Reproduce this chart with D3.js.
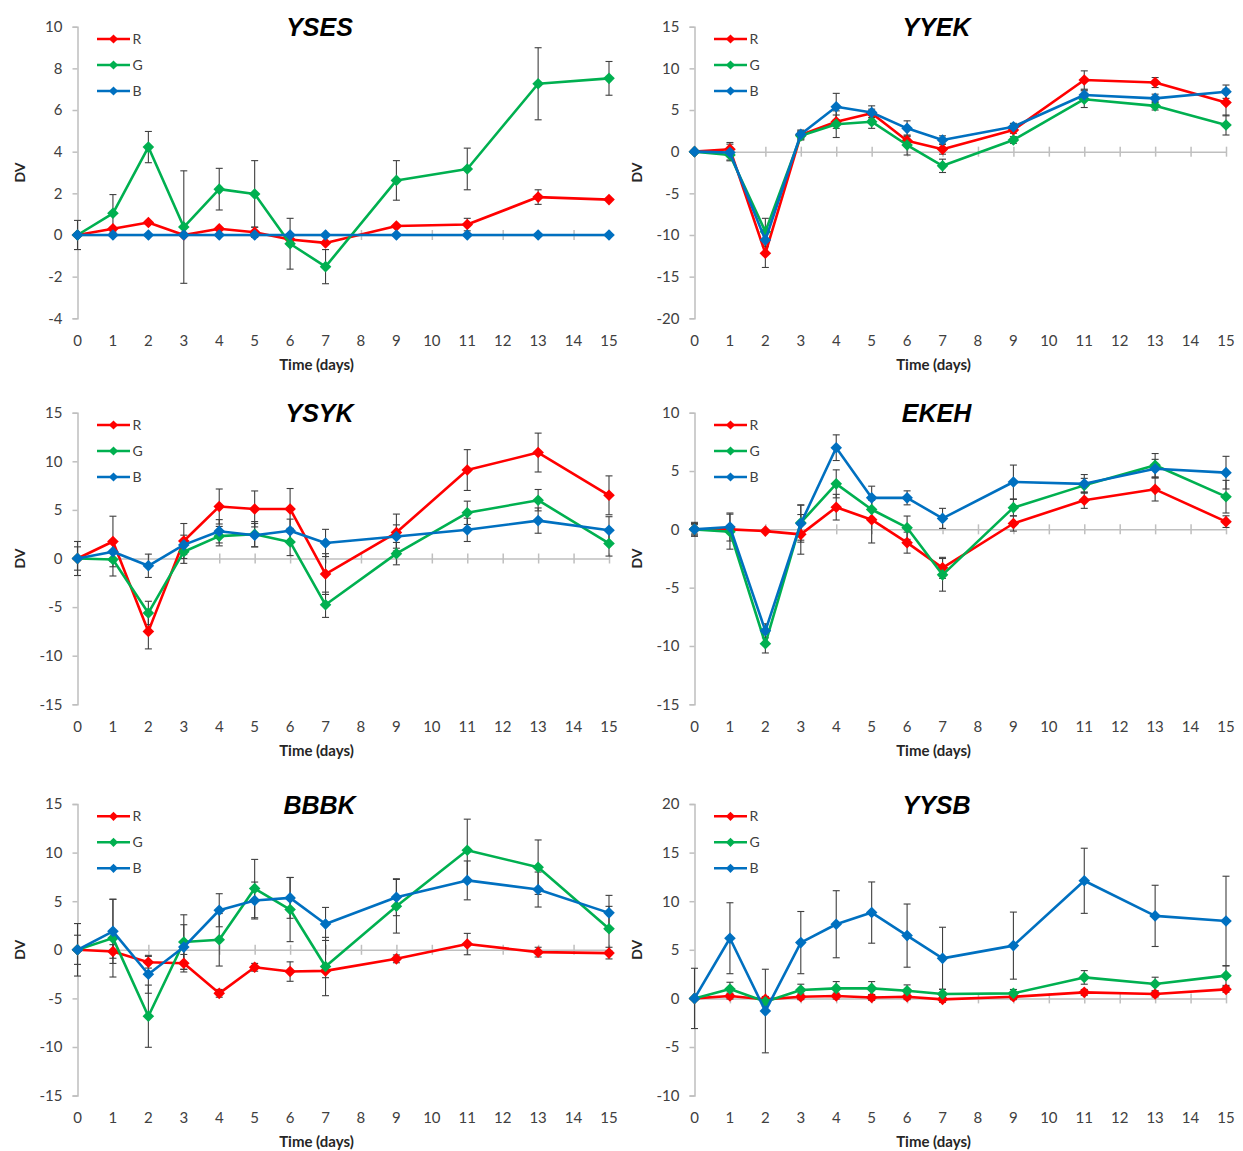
<!DOCTYPE html>
<html>
<head>
<meta charset="utf-8">
<script src="https://cdn.jsdelivr.net/npm/d3@7"></script>
<style>
  html, body { margin: 0; padding: 0; background: #fff; }
  svg { display: block; }
</style>
</head>
<body>
<svg id="chart" width="1243" height="1151"></svg>
<script>
// Sampling days and axis tick labels shared by all six panels
const days = [0, 1, 2, 3, 4, 5, 6, 7, 9, 11, 13, 15];
const dayTicks = [0, 1, 2, 3, 4, 5, 6, 7, 8, 9, 10, 11, 12, 13, 14, 15];
const seriesNames = ["R", "G", "B"];
const seriesColors = ["#FF0000", "#00B050", "#0070C0"];

// YSES
const ysesR = [0, 0.3, 0.6, 0, 0.3, 0.13, -0.22, -0.38, 0.43, 0.5, 1.82, 1.7];
const ysesG = [0, 1.04, 4.22, 0.38, 2.2, 1.97, -0.42, -1.52, 2.62, 3.17, 7.26, 7.52];
const ysesB = [0, 0, 0, 0, 0, 0, 0, 0, 0, 0, 0, 0];
const ysesErrR = [0, 0, 0, 0, 0, 0.25, 0, 0, 0, 0.3, 0.35, 0];
const ysesErrG = [0.7, 0.9, 0.75, 2.7, 1.0, 1.6, 1.22, 0.82, 0.95, 1.0, 1.73, 0.81];
const ysesErrB = [0, 0, 0, 0, 0, 0, 0, 0, 0, 0, 0, 0];
const ysesTicks = [-4, -2, 0, 2, 4, 6, 8, 10];

// YYEK
const yyekR = [0, 0.3, -12.2, 2.0, 3.6, 4.6, 1.3, 0.3, 2.6, 8.6, 8.3, 5.9];
const yyekG = [0, -0.4, -9.6, 1.9, 3.3, 3.6, 0.8, -1.7, 1.4, 6.3, 5.5, 3.2];
const yyekB = [0, -0.1, -10.6, 2.1, 5.4, 4.7, 2.8, 1.4, 3.0, 6.8, 6.4, 7.2];
const yyekErrR = [0, 0.8, 1.7, 0.5, 0.8, 0.5, 0.5, 0.6, 0.4, 1.1, 0.6, 1.6];
const yyekErrG = [0, 0.6, 1.6, 0.5, 1.6, 0.8, 1.2, 0.8, 0.4, 1.0, 0.5, 1.2];
const yyekErrB = [0, 1.0, 0.8, 0.5, 1.6, 0.8, 0.9, 0.5, 0.4, 0.6, 0.5, 0.8];
const yyekTicks = [-20, -15, -10, -5, 0, 5, 10, 15];

// YSYK
const ysykR = [0, 1.75, -7.5, 1.8, 5.35, 5.1, 5.1, -1.6, 2.67, 9.1, 10.9, 6.5];
const ysykG = [0, -0.1, -5.6, 0.7, 2.3, 2.5, 1.7, -4.76, 0.5, 4.7, 6.0, 1.55];
const ysykB = [0, 0.7, -0.75, 1.4, 2.8, 2.4, 2.85, 1.6, 2.26, 2.95, 3.9, 2.9];
const ysykErrR = [1.75, 2.6, 1.8, 1.8, 1.8, 1.85, 2.1, 2.1, 1.9, 2.1, 2.0, 2.0];
const ysykErrG = [1.2, 1.7, 1.2, 1.2, 1.0, 1.3, 1.4, 1.3, 1.15, 1.2, 1.1, 1.3];
const ysykErrB = [0, 1.0, 1.2, 1.0, 1.2, 1.2, 1.2, 1.4, 1.2, 1.2, 1.3, 1.4];
const ysykTicks = [-15, -10, -5, 0, 5, 10, 15];

// EKEH
const ekehR = [0, 0, -0.15, -0.43, 1.9, 0.83, -1.14, -3.3, 0.5, 2.5, 3.43, 0.66];
const ekehG = [0, -0.2, -9.8, 0.57, 3.9, 1.7, 0.14, -3.9, 1.86, 3.77, 5.5, 2.8];
const ekehB = [0, 0.2, -8.7, 0.5, 7.0, 2.7, 2.7, 0.94, 4.06, 3.9, 5.2, 4.86];
const ekehErrR = [0.6, 0, 0, 1.7, 1.1, 2.0, 0.9, 0.9, 0.65, 0.7, 1.0, 0.5];
const ekehErrG = [0.5, 1.5, 0.8, 1.5, 1.2, 0.8, 1.0, 1.4, 0.7, 0.6, 1.0, 1.4];
const ekehErrB = [0.4, 1.2, 0.6, 1.6, 1.1, 1.0, 0.6, 0.86, 1.45, 0.8, 0.8, 1.4];
const ekehTicks = [-15, -10, -5, 0, 5, 10];

// BBBK
const bbbkR = [0, -0.17, -1.28, -1.38, -4.48, -1.8, -2.24, -2.17, -0.93, 0.59, -0.24, -0.34];
const bbbkG = [0, 1.2, -6.83, 0.8, 1.03, 6.3, 4.14, -1.72, 4.48, 10.24, 8.5, 2.17];
const bbbkB = [0, 1.9, -2.52, 0.28, 4.07, 5.07, 5.34, 2.66, 5.41, 7.14, 6.2, 3.8];
const bbbkErrR = [0, 0.7, 0.6, 0.9, 0.4, 0.4, 1.0, 0.7, 0.4, 1.1, 0.5, 0.6];
const bbbkErrG = [2.7, 4.0, 3.2, 2.8, 2.7, 3.0, 3.3, 3.0, 2.76, 3.2, 2.8, 2.3];
const bbbkErrB = [1.5, 3.3, 1.95, 2.3, 1.7, 1.9, 2.1, 1.7, 1.9, 2.0, 1.8, 1.8];
const bbbkTicks = [-15, -10, -5, 0, 5, 10, 15];

// YYSB
const yysbR = [0, 0.24, -0.1, 0.17, 0.24, 0.1, 0.17, -0.1, 0.17, 0.62, 0.45, 0.93];
const yysbG = [0, 0.96, -0.34, 0.86, 1.03, 1.03, 0.79, 0.45, 0.52, 2.16, 1.48, 2.34];
const yysbB = [0, 6.19, -1.3, 5.74, 7.63, 8.83, 6.46, 4.12, 5.43, 12.1, 8.49, 7.97];
const yysbErrR = [0, 0.3, 0.3, 0.3, 0.3, 0.3, 0.3, 0.3, 0.3, 0.3, 0.3, 0.3];
const yysbErrG = [0, 0.7, 0.5, 0.6, 0.7, 0.7, 0.6, 0.5, 0.4, 0.7, 0.7, 1.0];
const yysbErrB = [3.1, 3.65, 4.3, 3.2, 3.45, 3.15, 3.25, 3.2, 3.45, 3.35, 3.15, 4.6];
const yysbTicks = [-10, -5, 0, 5, 10, 15, 20];

// Panel list assembled from the arrays above
const panels = [
  { title: "YSES", series: [ysesR, ysesG, ysesB], errs: [ysesErrR, ysesErrG, ysesErrB], ticks: ysesTicks },
  { title: "YYEK", series: [yyekR, yyekG, yyekB], errs: [yyekErrR, yyekErrG, yyekErrB], ticks: yyekTicks },
  { title: "YSYK", series: [ysykR, ysykG, ysykB], errs: [ysykErrR, ysykErrG, ysykErrB], ticks: ysykTicks },
  { title: "EKEH", series: [ekehR, ekehG, ekehB], errs: [ekehErrR, ekehErrG, ekehErrB], ticks: ekehTicks },
  { title: "BBBK", series: [bbbkR, bbbkG, bbbkB], errs: [bbbkErrR, bbbkErrG, bbbkErrB], ticks: bbbkTicks },
  { title: "YYSB", series: [yysbR, yysbG, yysbB], errs: [yysbErrR, yysbErrG, yysbErrB], ticks: yysbTicks }
];

// Layout of the 3x2 grid
const colX = [77.5, 694.5];
const rowTop = [26.7, 412.7, 804];
const plotW = 531.5;
const plotH = 291.6;

const svg = d3.select("#chart");
const labelFont = "Lato, 'Open Sans', sans-serif";
const axisGray = "#BFBFBF";
const tickText = "#404040";
const errColor = "#3F3F3F";

function diamond(r) {
  return `M0,${-r}L${r},0L0,${r}L${-r},0Z`;
}

panels.forEach((p, i) => {
  const left = colX[i % 2];
  const top = rowTop[Math.floor(i / 2)];
  const g = svg.append("g").attr("transform", `translate(${left},${top})`);

  const x = d3.scaleLinear().domain([0, 15]).range([0, plotW]);
  const y = d3.scaleLinear().domain(d3.extent(p.ticks)).range([plotH, 0]);

  // Vertical axis with outward ticks; plain hyphen for negatives
  const yAxis = d3.axisLeft(y).tickValues(p.ticks).tickSize(5).tickPadding(10).tickFormat(d => String(d));
  const ya = g.append("g").call(yAxis);
  ya.select(".domain").attr("stroke", axisGray).attr("stroke-width", 1.5);
  ya.selectAll(".tick line").attr("stroke", axisGray).attr("stroke-width", 1.5);
  ya.selectAll(".tick text")
    .attr("fill", tickText)
    .style("font-family", labelFont)
    .style("font-size", "15px");

  // Horizontal axis line through zero with crossing ticks
  const xa = g.append("g").attr("transform", `translate(0,${y(0)})`)
    .call(d3.axisBottom(x).tickValues(dayTicks).tickSize(0).tickFormat(""));
  xa.select(".domain").attr("stroke", axisGray).attr("stroke-width", 1.5);
  xa.selectAll(".tick").append("line")
    .attr("y1", -5).attr("y2", 5)
    .attr("stroke", axisGray).attr("stroke-width", 1.5);

  // Day labels sit below the plot area
  g.append("g").selectAll("text").data(dayTicks).join("text")
    .attr("x", d => x(d))
    .attr("y", plotH + 22)
    .attr("dy", "0.35em")
    .attr("text-anchor", "middle")
    .attr("fill", tickText)
    .style("font-family", labelFont)
    .style("font-size", "15px")
    .text(d => d);

  // Axis titles
  g.append("text")
    .attr("x", 239)
    .attr("y", plotH + 46)
    .attr("dy", "0.35em")
    .attr("text-anchor", "middle")
    .attr("fill", "#262626")
    .style("font-family", labelFont)
    .style("font-weight", "bold")
    .style("font-size", "15px")
    .text("Time (days)");

  g.append("text")
    .attr("transform", `translate(-57,${plotH / 2}) rotate(-90)`)
    .attr("dy", "0.35em")
    .attr("text-anchor", "middle")
    .attr("fill", "#262626")
    .style("font-family", labelFont)
    .style("font-weight", "bold")
    .style("font-size", "14px")
    .text("DV");

  // Panel title
  g.append("text")
    .attr("x", 242)
    .attr("y", 1)
    .attr("dy", "0.35em")
    .attr("text-anchor", "middle")
    .attr("fill", "#000")
    .style("font-family", "'Liberation Sans', Arial, sans-serif")
    .style("font-weight", "bold")
    .style("font-style", "italic")
    .style("font-size", "25px")
    .text(p.title);

  // Error bars
  p.series.forEach((vals, s) => {
    const eg = g.append("g");
    const pts = days.map((d, k) => ({ d, v: vals[k], e: p.errs[s][k] })).filter(o => o.e > 0);
    eg.selectAll("line.bar").data(pts).join("line")
      .attr("x1", o => x(o.d)).attr("x2", o => x(o.d))
      .attr("y1", o => y(o.v + o.e)).attr("y2", o => y(o.v - o.e))
      .attr("stroke", errColor).attr("stroke-width", 1.1);
    [1, -1].forEach(sign => {
      eg.selectAll(null).data(pts).join("line")
        .attr("x1", o => x(o.d) - 3.5).attr("x2", o => x(o.d) + 3.5)
        .attr("y1", o => y(o.v + sign * o.e)).attr("y2", o => y(o.v + sign * o.e))
        .attr("stroke", errColor).attr("stroke-width", 1.1);
    });
  });

  // Lines and diamond markers, one series at a time
  const line = d3.line().x((v, k) => x(days[k])).y(v => y(v));
  p.series.forEach((vals, s) => {
    g.append("path")
      .datum(vals)
      .attr("d", line)
      .attr("fill", "none")
      .attr("stroke", seriesColors[s])
      .attr("stroke-width", 2.6)
      .attr("stroke-linejoin", "round");
    g.append("g").selectAll("path").data(vals).join("path")
      .attr("transform", (v, k) => `translate(${x(days[k])},${y(v)})`)
      .attr("d", diamond(5.8))
      .attr("fill", seriesColors[s]);
  });

  // Legend
  const lg = g.append("g");
  seriesNames.forEach((name, s) => {
    const ly = 12.3 + s * 26;
    lg.append("line")
      .attr("x1", 19.5).attr("x2", 52.5)
      .attr("y1", ly).attr("y2", ly)
      .attr("stroke", seriesColors[s]).attr("stroke-width", 2.6);
    lg.append("path")
      .attr("transform", `translate(36,${ly})`)
      .attr("d", diamond(4.6))
      .attr("fill", seriesColors[s]);
    lg.append("text")
      .attr("x", 55).attr("y", ly)
      .attr("dy", "0.35em")
      .attr("fill", tickText)
      .style("font-family", labelFont)
      .style("font-size", "14px")
      .text(name);
  });
});
</script>
</body>
</html>
